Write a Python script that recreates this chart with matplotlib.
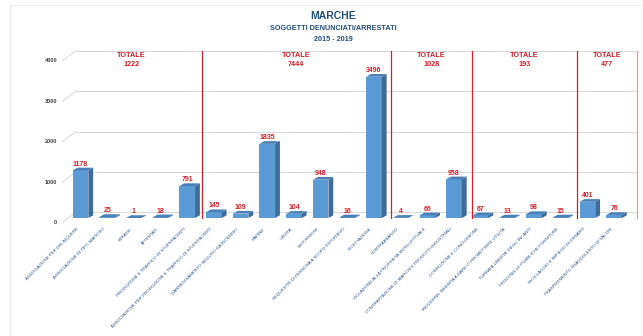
import matplotlib
matplotlib.use("Agg")
import matplotlib.pyplot as plt
from matplotlib.collections import PolyCollection
from matplotlib.lines import Line2D
from matplotlib.transforms import ScaledTranslation

plt.rcParams['font.family'] = ['Liberation Sans', 'DejaVu Sans']

# ---- data ----
categories = [
    "ASSOCIAZIONE PER DELINQUERE",
    "ASSOCIAZIONE DI TIPO MAFIOSO",
    "STRAGE",
    "ATTENTATI",
    "PRODUZIONE E TRAFFICO DI STUPEFACENTI",
    "ASSOCIAZIONE PER PRODUZIONE E TRAFFICO DI STUPEFACENTI",
    "DANNEGGIAMENTO SEGUITO DA INCENDIO",
    "RAPINE",
    "USURA",
    "ESTORSIONI",
    "SEQUESTRI DI PERSONA A SCOPO ESTORSIVO",
    "RICETTAZIONE",
    "CONTRABBANDO",
    "VIOLAZIONE ALLA PROPRIETA' INTELLETTUALE",
    "CONTRAFFAZIONE DI MARCHI E PRODOTTI INDUSTRIALI",
    "CORRUZIONE E CONCUSSIONE",
    "INDUZIONE INDEBITA A DARE O PROMETTERE UTILITA'",
    "TURBATA LIBERTA' DEGLI INCANTI",
    "FRODI NELLE PUBBLICHE FORNITURE",
    "RICICLAGGIO E IMPIEGO DI DENARO",
    "TRASFERIMENTO FRAUDOLENTO DI VALORI",
]
values = [1178, 25, 1, 18, 791, 145, 109, 1835, 104, 948, 16, 3496,
          4, 66, 958, 67, 13, 98, 15, 401, 76]
group_totals = [1222, 7444, 1028, 193, 477]
# red separators (category index units), as drawn in the original
separators = [4.54, 11.63, 14.66, 18.6, 20.85]
y_ticks = [0, 1000, 2000, 3000, 4000]

# ---- style ----
FRONT = "#5b9bd5"
SIDE = "#3e6b98"
TOP = "#4a80b8"
RED = "#d0202a"
NAVY = "#1f4e79"

W = 643
H = 336
fig = plt.figure(figsize=(W / 100, H / 100), dpi=100)
ax = fig.add_axes([67.2 / W, (H - 218) / H, 573.6 / W, 167.3 / H])
ax.set_xlim(-0.5, 21.0)
ax.set_ylim(0, 4140)
ax.set_axis_off()

def px(dx, dy):
    return ScaledTranslation(dx / 100, dy / 100, fig.dpi_scale_trans)

# back wall grid + little perspective stubs
UNIT = 4140 / 167.3  # data units per pixel
for v in y_ticks:
    ax.plot([-0.17, 20.85], [v + 5.6 * UNIT] * 2, color="#d9d9d9", lw=0.7,
            zorder=0, clip_on=False)
    ax.plot([-0.69, -0.17], [v - 4.6 * UNIT, v + 5.6 * UNIT], color="#d9d9d9",
            lw=0.7, zorder=0, clip_on=False)
    ax.text(-0.88, v, f"{v}", transform=ax.transData + px(0, -4.5),
            ha="right", va="center", fontsize=4, color="#404040",
            fontweight="bold")

# 3d bars
xs = list(range(len(values)))
bw = 0.585
ddx = 0.18
ddy = 2.7 * UNIT
ax.bar(xs, values, width=bw, color=FRONT, zorder=3, clip_on=False)
sides = []
tops = []
for x, v in zip(xs, values):
    r = x + bw / 2
    l = x - bw / 2
    sides.append([(r, 0), (r + ddx, ddy), (r + ddx, v + ddy), (r, v)])
    tops.append([(l, v), (r, v), (r + ddx, v + ddy), (l + ddx, v + ddy)])
ax.add_collection(PolyCollection(sides, facecolors=SIDE, edgecolors="none",
                                 zorder=3, clip_on=False))
ax.add_collection(PolyCollection(tops, facecolors=TOP, edgecolors="none",
                                 zorder=4, clip_on=False))

for x, v in zip(xs, values):
    ax.text(x, v + ddy, f"{v}", ha="center", va="bottom", fontsize=5,
            color=RED, fontweight="bold", zorder=5)

# category labels
for x, lab in zip(xs, categories):
    ax.text(x, 0, lab, transform=ax.transData + px(-3.8, -9), rotation=45,
            rotation_mode="anchor", ha="right", va="top", fontsize=3.2,
            color="#2f5383")

# separators and totals
sep_colors = [RED, RED, RED, RED, "#e79a9a"]
for s, c in zip(separators, sep_colors):
    ax.plot([s, s], [0, 4140], color=c, lw=0.9, zorder=2, clip_on=False)
bounds = [-0.72] + separators
for i, t in enumerate(group_totals):
    cx = (bounds[i] + bounds[i + 1]) / 2
    ax.text(cx, 4140, "TOTALE\n" + str(t), transform=ax.transData + px(0, -1),
            ha="center", va="top", fontsize=5.2, color=RED, fontweight="bold",
            linespacing=1.4)

# titles
fig.text(333.5 / W, 1 - 16 / H, "MARCHE", ha="center", va="center",
         fontsize=7.5, fontweight="bold", color=NAVY)
fig.text(333 / W, 1 - 28.7 / H, "SOGGETTI DENUNCIATI/ARRESTATI", ha="center",
         va="center", fontsize=5.2, fontweight="bold", color=NAVY)
fig.text(333.5 / W, 1 - 39.3 / H, "2015 - 2019", ha="center", va="center",
         fontsize=5.2, fontweight="bold", color=NAVY)

# light chart frame
fig.add_artist(Line2D([10 / W, 10 / W], [0, 1 - 5 / H], color="#ebebeb", lw=0.8))
fig.add_artist(Line2D([10 / W, 1], [1 - 5 / H, 1 - 5 / H], color="#ebebeb", lw=0.8))

fig.savefig("out.png", dpi=100)
